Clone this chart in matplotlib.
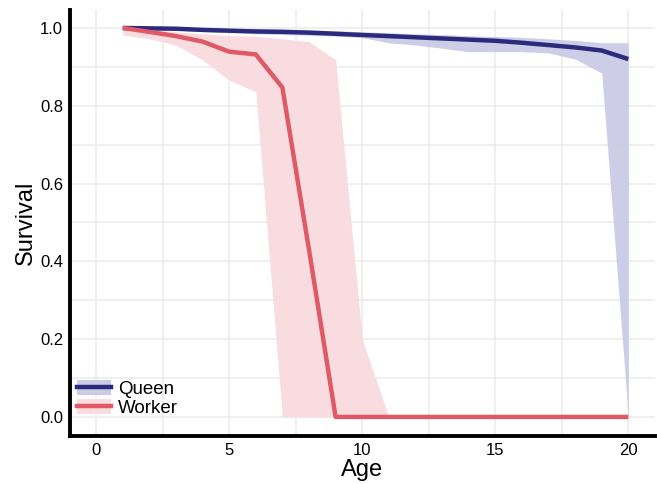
import matplotlib
matplotlib.use("Agg")
import matplotlib.pyplot as plt
from matplotlib.patches import Patch
from matplotlib.lines import Line2D

plt.rcParams["font.family"] = ["Liberation Sans", "DejaVu Sans"]

ages = list(range(1, 21))

queen_surv = [1.0, 0.999, 0.998, 0.995, 0.993, 0.991, 0.990, 0.988, 0.985, 0.982,
              0.979, 0.976, 0.973, 0.970, 0.967, 0.962, 0.956, 0.950, 0.942, 0.920]
queen_upper = [1.0, 1.0, 1.0, 1.0, 0.999, 0.998, 0.997, 0.995, 0.993, 0.990,
               0.988, 0.985, 0.983, 0.980, 0.978, 0.976, 0.972, 0.968, 0.962, 0.962]
queen_lower = [1.0, 0.997, 0.995, 0.991, 0.988, 0.985, 0.983, 0.981, 0.979, 0.975,
               0.962, 0.956, 0.948, 0.939, 0.939, 0.939, 0.936, 0.920, 0.884, 0.0]

worker_surv = [1.0, 0.990, 0.979, 0.965, 0.939, 0.932, 0.847, 0.43, 0.0, 0.0,
               0.0, 0.0, 0.0, 0.0, 0.0, 0.0, 0.0, 0.0, 0.0, 0.0]
worker_upper = [1.0, 0.998, 0.990, 0.985, 0.980, 0.979, 0.972, 0.965, 0.918, 0.20,
                0.0, 0.0, 0.0, 0.0, 0.0, 0.0, 0.0, 0.0, 0.0, 0.0]
worker_lower = [0.982, 0.972, 0.956, 0.918, 0.866, 0.836, 0.0, 0.0, 0.0, 0.0,
                0.0, 0.0, 0.0, 0.0, 0.0, 0.0, 0.0, 0.0, 0.0, 0.0]

queen_line = "#2B2A7C"
queen_fill = "#CBCBE6"
worker_line = "#E05A66"
worker_fill = "#F9DCDF"

fig = plt.figure(figsize=(6.58, 4.84), dpi=100)
ax = fig.add_axes([0.1064, 0.0992, 0.889, 0.88])

ax.fill_between(ages, worker_lower, worker_upper, color=worker_fill, lw=0, zorder=2)
ax.fill_between(ages, queen_lower, queen_upper, color=queen_fill, alpha=0.95, lw=0, zorder=2)
ax.plot(ages, queen_surv, color=queen_line, lw=3.2, zorder=3, solid_capstyle="butt")
ax.plot(ages, worker_surv, color=worker_line, lw=3.2, zorder=3, solid_capstyle="butt")

ax.set_xlim(-0.98, 21.0)
ax.set_ylim(-0.049, 1.046)
ax.set_xticks([0, 5, 10, 15, 20])
ax.set_xticks([2.5, 7.5, 12.5, 17.5], minor=True)
ax.set_yticks([0.0, 0.2, 0.4, 0.6, 0.8, 1.0])
ax.set_yticklabels(["0.0", "0.2", "0.4", "0.6", "0.8", "1.0"])
ax.set_yticks([0.1, 0.3, 0.5, 0.7, 0.9], minor=True)
ax.grid(True, which="both", color="#EBEBEB", lw=1.1, zorder=0)
ax.set_axisbelow(True)
ax.tick_params(which="both", length=0, labelsize=12, colors="black", pad=5)

for s in ["top", "right"]:
    ax.spines[s].set_visible(False)
for s in ["left", "bottom"]:
    ax.spines[s].set_linewidth(2.8)
    ax.spines[s].set_color("black")

ax.set_xlabel("Age", fontsize=17, labelpad=1)
ax.set_ylabel("Survival", fontsize=17, labelpad=2)

handles = [
    (Patch(facecolor=queen_fill, edgecolor="none"), Line2D([], [], color=queen_line, lw=3.2)),
    (Patch(facecolor=worker_fill, edgecolor="none"), Line2D([], [], color=worker_line, lw=3.2)),
]
leg = ax.legend(handles, ["Queen", "Worker"], loc="lower left", frameon=False,
                fontsize=13.5, handlelength=1.8, handleheight=0.9,
                borderaxespad=0.0, borderpad=0.0, labelspacing=0.05, handletextpad=0.4,
                bbox_to_anchor=(7 / 585, 19 / 426))

fig.savefig("out.png", dpi=100)
